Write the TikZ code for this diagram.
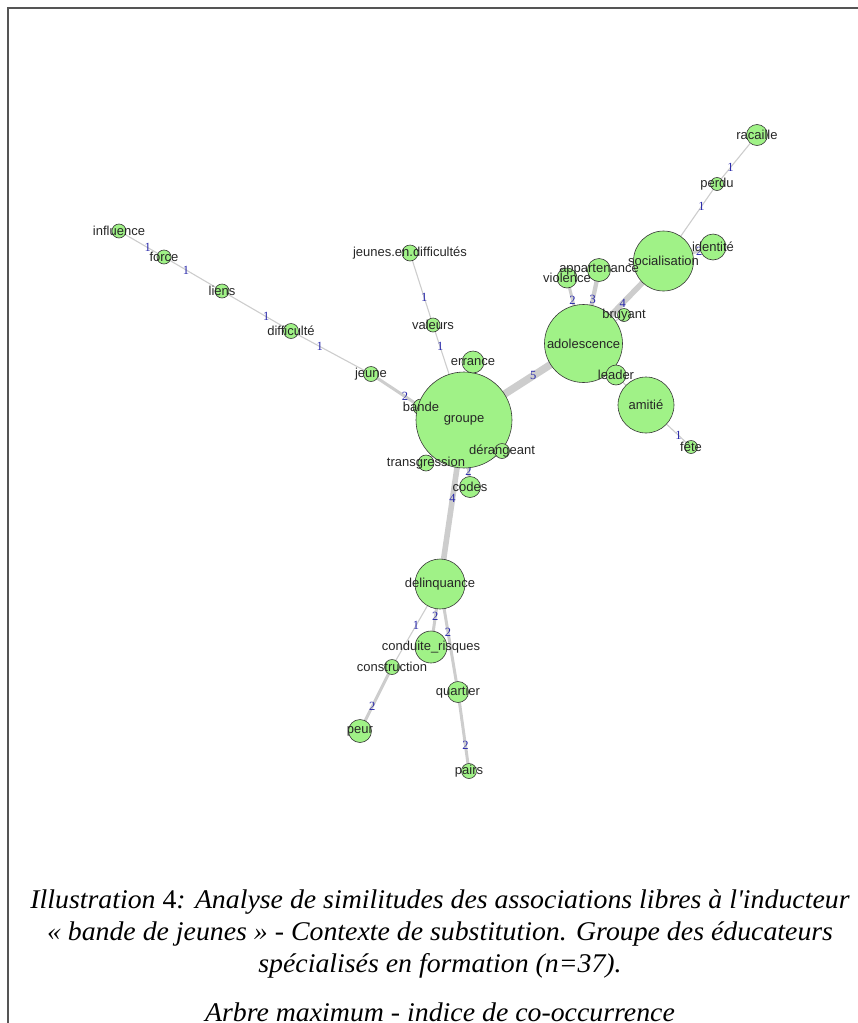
\documentclass[tikz,border=0pt]{standalone}
\usepackage{fontspec}
\setmainfont{Liberation Sans}
\newfontfamily\weightfont{Liberation Serif}
\newfontfamily\captionfont[FakeStretch=1.03]{Liberation Serif}
\usetikzlibrary{backgrounds}
\definecolor{vertexfill}{RGB}{160,242,135}
\definecolor{vertexdraw}{RGB}{55,55,55}
\definecolor{edgegray}{RGB}{205,205,205}
\definecolor{weightblue}{RGB}{40,40,170}
\definecolor{framegray}{RGB}{85,85,85}

\begin{document}
\begin{tikzpicture}[x=1pt, y=-1pt,
  vertex/.style={circle, inner sep=0pt, fill=vertexfill, draw=vertexdraw, line width=0.6pt, minimum size=#1},
  vertex/.default=14pt,
  word/.style={font=\fontsize{13}{15}\selectfont, text=black!85, inner sep=0pt},
  w1/.style={draw=edgegray, line width=1.1pt},
  w2/.style={draw=edgegray, line width=3pt},
  w3/.style={draw=edgegray, line width=4.3pt},
  w4/.style={draw=edgegray, line width=5.6pt},
  w5/.style={draw=edgegray, line width=7.5pt},
  weight/.style={font=\weightfont\fontsize{12.5}{14}\selectfont, text=weightblue, inner sep=0pt},
  captionline/.style={font=\captionfont\itshape\fontsize{27}{33}\selectfont, anchor=base, inner sep=0pt}
]
\useasboundingbox (0,0) rectangle (858,1023);
\draw[framegray, line width=1.5pt] (858,8) -- (8,8) -- (8,1023);

% vertices
\node[vertex] (influence) at (119,231) {};
\node[vertex] (force) at (164,257) {};
\node[vertex] (liens) at (222,291) {};
\node[vertex=15pt] (difficulte) at (291,331) {};
\node[vertex=15pt] (jeune) at (371,374) {};
\node[vertex=16pt] (jeunesdiff) at (410,253) {};
\node[vertex] (valeurs) at (433,325) {};
\node[vertex=16pt] (bande) at (421,407) {};
\node[vertex=96pt] (groupe) at (464,420) {};
\node[vertex=22pt] (errance) at (473,362) {};
\node[vertex=15pt] (derangeant) at (502,451) {};
\node[vertex=16pt] (transgression) at (426,463) {};
\node[vertex=21pt] (codes) at (470,487) {};
\node[vertex=78pt] (adolescence) at (583.5,343.5) {};
\node[vertex=20pt] (violence) at (567,278) {};
\node[vertex=23pt] (appartenance) at (599,270) {};
\node[vertex=60pt] (socialisation) at (663.5,261) {};
\node[vertex=26pt] (identite) at (713,247) {};
\node[vertex=13pt] (perdu) at (717,184) {};
\node[vertex=21pt] (racaille) at (757,135) {};
\node[vertex=13pt] (bruyant) at (624,315) {};
\node[vertex=56pt] (amitie) at (646,405) {};
\node[vertex=20pt] (leader) at (616,375) {};
\node[vertex=13pt] (fete) at (691,447) {};
\node[vertex=50pt] (delinquance) at (440,584) {};
\node[vertex=32pt] (conduite) at (431,647) {};
\node[vertex=15pt] (construction) at (392,667) {};
\node[vertex=21pt] (quartier) at (458,692) {};
\node[vertex=23pt] (peur) at (360,731) {};
\node[vertex=15pt] (pairs) at (469,771) {};

% edges and co-occurrence counts
\begin{pgfonlayer}{background}
  \draw[w1] (influence.center) -- node[weight, pos=.64] {1} (force.center);
  \draw[w1] (force.center) -- node[weight, pos=.38] {1} (liens.center);
  \draw[w1] (liens.center) -- node[weight, pos=.64] {1} (difficulte.center);
  \draw[w1] (difficulte.center) -- node[weight, pos=.36] {1} (jeune.center);
  \draw[w2] (jeune.center) -- node[weight, pos=.68] {2} (bande.center);
  \draw[w2] (bande.center) -- (groupe.center);
  \draw[w1] (jeunesdiff.center) -- node[weight, pos=.62] {1} (valeurs.center);
  \draw[w1] (valeurs.center) -- node[weight, pos=.23] {1} (groupe.center);
  \draw[w1] (groupe.center) -- (errance.center);
  \draw[w1] (groupe.center) -- (derangeant.center);
  \draw[w1] (groupe.center) -- (transgression.center);
  \draw[w2] (groupe.center) -- node[weight, pos=.76] {2} (codes.center);
  \draw[w4] (groupe.center) -- node[weight, pos=.48] {4} (delinquance.center);
  \draw[w5] (groupe.center) -- node[weight, pos=.58] {5} (adolescence.center);
  \draw[w2] (adolescence.center) -- node[weight, pos=.66] {2} (violence.center);
  \draw[w3] (adolescence.center) -- node[weight, pos=.6] {3} (appartenance.center);
  \draw[w4] (adolescence.center) -- node[weight, pos=.49] {4} (socialisation.center);
  \draw[w1] (adolescence.center) -- (bruyant.center);
  \draw[w1] (adolescence.center) -- (leader.center);
  \draw[w1] (adolescence.center) -- (amitie.center);
  \draw[w1] (amitie.center) -- node[weight, pos=.72] {1} (fete.center);
  \draw[w2] (socialisation.center) -- node[weight, pos=.72] {2} (identite.center);
  \draw[w1] (socialisation.center) -- node[weight, pos=.71] {1} (perdu.center);
  \draw[w1] (perdu.center) -- node[weight, pos=.34] {1} (racaille.center);
  \draw[w2] (delinquance.center) -- node[weight, pos=.52] {2} (conduite.center);
  \draw[w1] (delinquance.center) -- node[weight, pos=.5] {1} (construction.center);
  \draw[w2] (delinquance.center) -- node[weight, pos=.45] {2} (quartier.center);
  \draw[w2] (construction.center) -- node[weight, pos=.62] {2} (peur.center);
  \draw[w2] (quartier.center) -- node[weight, pos=.67] {2} (pairs.center);
\end{pgfonlayer}

% words on top of every vertex
\foreach \v/\t in {influence/influence, force/force, liens/liens, difficulte/difficulté,
    jeune/jeune, jeunesdiff/jeunes.en.difficultés, valeurs/valeurs, bande/bande,
    groupe/groupe, errance/errance, derangeant/dérangeant, transgression/transgression,
    codes/codes, adolescence/adolescence, violence/violence, appartenance/appartenance,
    socialisation/socialisation, identite/identité, perdu/perdu, racaille/racaille,
    bruyant/bruyant, amitie/amitié, leader/leader, fete/fête, delinquance/delinquance,
    conduite/conduite\_risques, construction/construction, quartier/quartier,
    peur/peur, pairs/pairs}
  \node[word] (\v-w) at (\v) {\t};

% caption
\node[captionline] (cap1) at (440,908) {Illustration {\upshape 4}: Analyse de similitudes des associations libres à l'inducteur};
\node[captionline] (cap2) at (440,940) {« bande de jeunes » - Contexte de substitution. Groupe des éducateurs};
\node[captionline] (cap3) at (440,972) {spécialisés en formation (n=37).};
\node[captionline] (cap4) at (440,1021) {Arbre maximum - indice de co-occurrence};
\end{tikzpicture}
\end{document}
